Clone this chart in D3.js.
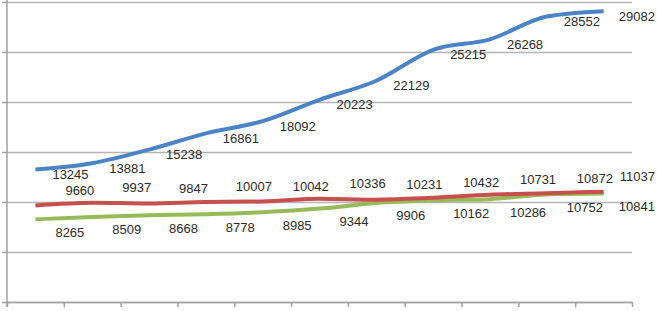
<!DOCTYPE html>
<meta charset="utf-8">
<html>
<head>
<style>
body { margin: 0; background: #fff; }
.lbl { font-family: "Liberation Sans", Arial, sans-serif; font-size: 13px; fill: #2b2b2b; }
</style>
</head>
<body>
<div id="my_dataviz"></div>
<script src="https://d3js.org/d3.v7.min.js"></script>
<script>

// data (11 periods, axis labels are cut off)
var periods = ["1", "2", "3", "4", "5", "6", "7", "8", "9", "10", "11"];
var blueValues  = [13245, 13881, 15238, 16861, 18092, 20223, 22129, 25215, 26268, 28552, 29082];
var redValues   = [9660, 9937, 9847, 10007, 10042, 10336, 10231, 10432, 10731, 10872, 11037];
var greenValues = [8265, 8509, 8668, 8778, 8985, 9344, 9906, 10162, 10286, 10752, 10841];
var yTicks = [0, 5000, 10000, 15000, 20000, 25000, 30000];

var width = 657, height = 311;

var svg = d3.select("#my_dataviz")
  .append("svg")
    .attr("width", width)
    .attr("height", height);

// x: one band per period, ticks on band edges
var x = d3.scaleBand()
  .domain(periods)
  .range([7, 632]);
var xEdge = d3.scaleLinear()
  .domain([0, periods.length])
  .range([7, 632]);

var y = d3.scaleLinear()
  .domain([0, 30000])
  .range([302, 2]);

// gridlines
svg.append("g")
  .attr("transform", "translate(7,0)")
  .call(d3.axisLeft(y).tickValues(yTicks).tickSize(-625).tickFormat(""))
  .call(function(g) { g.select(".domain").remove(); })
  .selectAll("line")
    .attr("stroke", "#b4b4b4")
    .attr("stroke-width", 1.5);

// left axis with small outer ticks
svg.append("g")
  .attr("transform", "translate(7,0)")
  .call(d3.axisLeft(y).tickValues(yTicks).tickSize(5).tickSizeOuter(0).tickFormat(""))
  .call(function(g) {
    g.select(".domain").attr("stroke", "#a0a0a0").attr("stroke-width", 1.5)
      .attr("d", "M0,0V307");
    g.selectAll("line").attr("stroke", "#a0a0a0").attr("stroke-width", 1.5);
  });

// bottom axis
svg.append("g")
  .attr("transform", "translate(0,302)")
  .call(d3.axisBottom(xEdge).ticks(periods.length).tickSize(5).tickSizeOuter(0).tickFormat(""))
  .call(function(g) {
    g.select(".domain").attr("stroke", "#a0a0a0").attr("stroke-width", 1.5);
    g.selectAll("line").attr("stroke", "#a0a0a0").attr("stroke-width", 1.5);
  });

var series = [
  {name: "blue",  values: blueValues,  color: "#4a84c5", dx: 17, dy: 5},
  {name: "red",   values: redValues,   color: "#c6504d", dx: 30, dy: -15},
  {name: "green", values: greenValues, color: "#98bb5a", dx: 20, dy: 13}
];

var cx = function(i) { return x(periods[i]) + x.bandwidth() / 2; };

var line = d3.line()
  .x(function(d, i) { return cx(i); })
  .y(function(d) { return y(d); })
  .curve(d3.curveMonotoneX);

// draw green and red first so blue sits on top
[series[2], series[1], series[0]].forEach(function(s) {
  svg.append("path")
    .datum(s.values)
    .attr("d", line)
    .attr("fill", "none")
    .attr("stroke", s.color)
    .attr("stroke-width", 4)
    .attr("stroke-linecap", "butt");
});

// value labels, kept inside the picture on the right
series.forEach(function(s) {
  svg.append("g")
    .selectAll("text")
    .data(s.values)
    .enter()
    .append("text")
      .attr("class", "lbl")
      .attr("x", function(d, i) { return cx(i) + s.dx; })
      .attr("y", function(d) { return y(d) + s.dy; })
      .attr("dy", "0.35em")
      .text(function(d) { return d; })
      .each(function() {
        var b = this.getBBox();
        if (b.x + b.width > width - 2) d3.select(this).attr("x", width - 2 - b.width);
      });
});

</script>
</body>
</html>
